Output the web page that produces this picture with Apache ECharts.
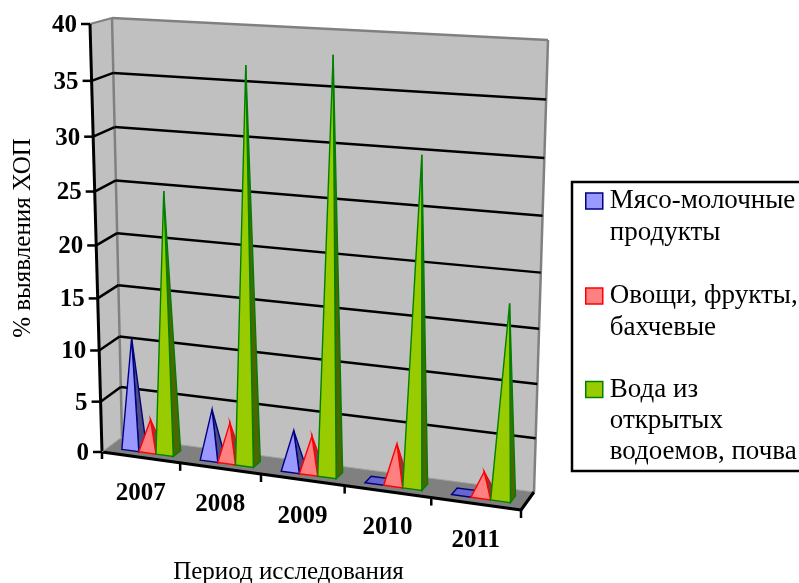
<!DOCTYPE html>
<html><head><meta charset="utf-8">
<style>html,body{margin:0;padding:0;background:#fff}#c{width:799px;height:583px}</style>
<script src="https://cdn.jsdelivr.net/npm/echarts@6/dist/echarts.min.js"></script>
</head><body><div id="c"></div>
<script>
const categories = ['2007','2008','2009','2010','2011'];
const yTicks = [0,5,10,15,20,25,30,35,40];
const meat = [10.8,4.8,3.75,0,0];
const veg = [3,3.7,3.45,3.75,2.2];
const water = [25,36.8,38.1,30,17.7];
const FONT = '"Liberation Serif","Times New Roman",serif';

// perspective frame: corners of the front and back planes of the 3D box
const FRONT = {p00:[102,452],p10:[521,510],p11:[541,45],p01:[90,24]};
const BACK  = {p00:[122,437],p10:[534,492],p11:[548,40],p01:[112,18]};
function homography(q){
  const [x0,y0]=q.p00,[x1,y1]=q.p10,[x2,y2]=q.p11,[x3,y3]=q.p01;
  const dx1=x1-x2,dx2=x3-x2,sx=x0-x1+x2-x3,dy1=y1-y2,dy2=y3-y2,sy=y0-y1+y2-y3;
  const den=dx1*dy2-dx2*dy1,g=(sx*dy2-dx2*sy)/den,h=(dx1*sy-sx*dy1)/den;
  const a=x1-x0+g*x1,b=x3-x0+h*x3,d=y1-y0+g*y1,e=y3-y0+h*y3;
  return (s,t)=>{const n=g*s+h*t+1;return [(a*s+b*t+x0)/n,(d*s+e*t+y0)/n];};
}
const hF=homography(FRONT),hB=homography(BACK);
// s,t are fractions of the cartesian plot rect, w is depth (0 front, 1 back)
function proj(s,t,w){const f=hF(s,t),b=hB(s,t);return [f[0]+(b[0]-f[0])*w,f[1]+(b[1]-f[1])*w];}
function frac(params,pt){const c=params.coordSys;return [(pt[0]-c.x)/c.width,1-(pt[1]-c.y)/c.height];}

function poly(points,fill,stroke,lw){return {type:'polygon',shape:{points},style:{fill,stroke:stroke||null,lineWidth:lw||0}};}
function line(a,b,stroke,lw){return {type:'line',shape:{x1:a[0],y1:a[1],x2:b[0],y2:b[1]},style:{stroke,lineWidth:lw}};}
function label(text,x,y,align){return {type:'text',style:{text,x,y,align,verticalAlign:'middle',fill:'#000',font:'bold 25px '+FONT}};}

function renderWalls(params,api){
  const WALL='#C0C0C0',EDGE='#808080';
  return {type:'group',children:[
    poly([proj(0,0,0),proj(0,1,0),proj(0,1,1),proj(0,0,1)],WALL),
    poly([proj(0,0,1),proj(0,1,1),proj(1,1,1),proj(1,0,1)],WALL),
    poly([proj(0,0,0),proj(1,0,0),proj(1,0,1),proj(0,0,1)],'#808080'),
    line(proj(0,1,0),proj(0,1,1),EDGE,2),
    line(proj(0,1,1),proj(1,1,1),EDGE,2.5),
    line(proj(1,1,1),proj(1,0,1),EDGE,2.5),
    line(proj(0,0,1),proj(0,1,1),EDGE,2.5),
    line(proj(0,0,1),proj(1,0,1),'#A0A0A0',1)
  ]};
}
function renderY(params,api){
  const v=api.value(0);
  const t=frac(params,api.coord([0,v]))[1];
  const a=proj(0,t,0),b=proj(0,t,1),c=proj(1,t,1);
  const ch=[];
  if(v>0&&v<40){ch.push(line(a,b,'#000',2.5),line(b,c,'#000',2.5));}
  ch.push(line([a[0]-9,a[1]],a,'#000',2.5));
  ch.push(label(String(v),a[0]-13,a[1]+1.5,'right'));
  return {type:'group',children:ch};
}
function renderX(params,api){
  const i=api.value(0);
  const c=api.coord([i,0]),bw=api.size([1,0])[0];
  const f0=frac(params,[c[0]-bw/2,c[1]]),f1=frac(params,[c[0]+bw/2,c[1]]),fc=frac(params,c);
  const l=proj(f0[0],0,0),r=proj(f1[0],0,0),m=proj(fc[0],0,0);
  const ch=[line(r,[r[0],r[1]+8],'#000',2.5),
    label(categories[i],m[0],m[1]+36.5,'center')];
  if(i===0) ch.push(line(l,[l[0],l[1]+7],'#000',2.5));
  return {type:'group',children:ch};
}
function renderAxes(){
  return {type:'group',children:[
    line(proj(0,1,0),proj(0,0,0),'#000',3),
    line(proj(0,0,0),proj(1,0,0),'#000',3),
    line(proj(1,0,0),proj(1,0,1),'#000',3),
    line(proj(0,0,0),proj(0,0,1),'#9a9a9a',1)
  ]};
}
function pyramid(idx,fill,side,stroke,flat){
  const W=0.22,START=0.18,D0=0.3,D1=0.68;
  return function(params,api){
    const i=api.value(0),v=api.value(1);
    const c=api.coord([i,0]),top=api.coord([i,v]),bw=api.size([1,0])[0];
    const x0=c[0]-bw/2+bw*(START+W*idx),x1=x0+bw*W;
    const s0=frac(params,[x0,c[1]])[0],s1=frac(params,[x1,c[1]])[0];
    const t=frac(params,top)[1],sm=(s0+s1)/2,dm=(D0+D1)/2;
    const fl=proj(s0,0,D0),fr=proj(s1,0,D0),br=proj(s1,0,D1),bl=proj(s0,0,D1),ap=proj(sm,t,dm);
    if(v===0) return poly([fl,fr,br,bl],flat,stroke,1.4);
    return {type:'group',children:[poly([fr,br,ap],side,stroke,1.4),poly([fl,fr,ap],fill,stroke,1.4)]};
  };
}
const SERIES=[
  {name:'Мясо-молочные продукты',data:meat,fill:'#9999FF',side:'#4D4D80',stroke:'#000080',flat:'#6666CC',text:'\nМясо-молочные\nпродукты',top:154},
  {name:'Овощи, фрукты, бахчевые',data:veg,fill:'#FF8080',side:'#804040',stroke:'#FF0000',flat:'#CC6666',text:'\nОвощи, фрукты,\nбахчевые',top:249},
  {name:'Вода из открытых водоемов, почва',data:water,fill:'#99CC00',side:'#4D6600',stroke:'#008000',flat:'#669900',text:'\n\nВода из\nоткрытых\nводоемов, почва',top:311}
];
const textStyle={fontFamily:FONT,fontSize:27,lineHeight:31.4,color:'#000',padding:[0,0,0,2]};
const option={
  animation:false,
  backgroundColor:'#fff',
  grid:{left:102,top:24,width:419,height:428,containLabel:false,outerBoundsMode:'none'},
  xAxis:{type:'category',data:categories,
    axisLine:{show:false},axisTick:{show:false},axisLabel:{show:false},splitLine:{show:false},
    name:'Период исследования',nameLocation:'middle',nameGap:108,
    nameTextStyle:{fontFamily:FONT,fontSize:25,color:'#000',padding:[0,46,0,0]}},
  yAxis:{type:'value',min:0,max:40,interval:5,
    axisLine:{show:false},axisTick:{show:false},axisLabel:{show:false},splitLine:{show:false},
    name:'% выявления ХОП',nameLocation:'middle',nameGap:66,
    nameTextStyle:{fontFamily:FONT,fontSize:25,color:'#000'}},
  legend:SERIES.map(s=>({
    left:585,top:s.top,orient:'vertical',padding:0,itemGap:0,itemWidth:17,itemHeight:16,
    selectedMode:false,icon:'rect',textStyle,
    data:[{name:s.name,itemStyle:{color:s.fill,borderColor:s.stroke,borderWidth:1.5}}],
    formatter:()=>s.text
  })),
  graphic:[{type:'rect',silent:true,z:-1,shape:{x:572,y:182,width:240,height:289},style:{fill:'#fff',stroke:'#000',lineWidth:2.5}}],
  series:[
    {type:'custom',name:'walls',silent:true,clip:false,z:1,data:[[0]],renderItem:renderWalls,encode:{x:0,y:0},tooltip:{show:false}},
    {type:'custom',name:'yticks',silent:true,z:2,clip:false,data:yTicks.map(v=>[v]),encode:{y:0},renderItem:renderY},
    {type:'custom',name:'axes',silent:true,z:3,clip:false,data:[[0]],encode:{y:0},renderItem:renderAxes},
    {type:'custom',name:'xticks',silent:true,z:3,clip:false,data:categories.map((c,i)=>[i]),encode:{x:0},renderItem:renderX},
    ...SERIES.map((s,idx)=>({type:'custom',name:s.name,z:5+idx,clip:false,
      itemStyle:{color:s.fill},
      data:s.data.map((v,i)=>[i,v]),encode:{x:0,y:1},
      renderItem:pyramid(idx,s.fill,s.side,s.stroke,s.flat)}))
  ]
};
echarts.init(document.getElementById('c'),null,{renderer:'canvas'}).setOption(option);
</script></body></html>
